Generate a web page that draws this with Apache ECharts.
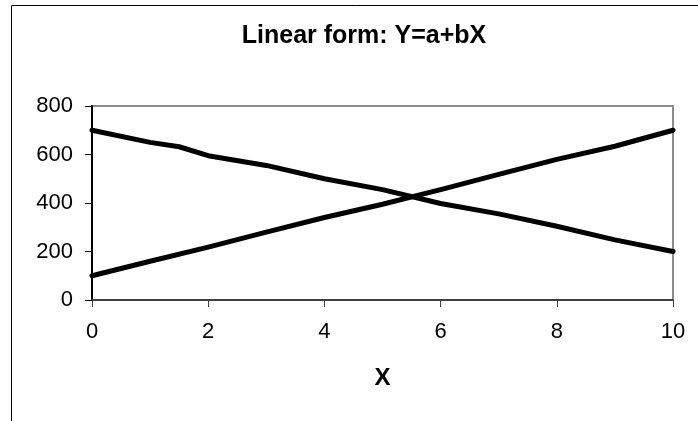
<!DOCTYPE html>
<html>
<head>
<meta charset="utf-8">
<style>
  html, body { margin: 0; padding: 0; background: #fff; }
  #chart { width: 698px; height: 421px; }
</style>
<script src="https://cdn.jsdelivr.net/npm/echarts@6/dist/echarts.min.js"></script>
</head>
<body>
<div id="chart"></div>
<script>
// X positions sampled along each curve
const xRising  = [0, 1, 2, 3, 4, 5, 6, 7, 8, 9, 10];
const yRising  = [100, 160, 218, 280, 340, 395, 455, 518, 580, 634, 700];

const xFalling = [0, 1, 1.5, 2, 3, 4, 5, 6, 7, 8, 9, 10];
const yFalling = [700, 650, 632, 595, 555, 500, 455, 398, 355, 304, 248, 200];

const yTicks = [0, 200, 400, 600, 800];
const xTicks = [0, 2, 4, 6, 8, 10];

const pairs = (xs, ys) => xs.map((x, i) => [x, ys[i]]);

const FONT = '"Liberation Sans", Arial, sans-serif';

const chart = echarts.init(document.getElementById('chart'), null, { renderer: 'canvas' });

const lineStyle = { color: '#000', width: 5, cap: 'round', join: 'round' };

chart.setOption({
  animation: false,
  backgroundColor: '#fff',
  title: {
    text: 'Linear form: Y=a+bX',
    left: 359,
    top: 19,
    textAlign: 'center',
    textStyle: { fontFamily: FONT, fontWeight: 'bold', fontSize: 25, color: '#000' }
  },
  graphic: [
    {
      type: 'rect',
      shape: { x: 11.5, y: 5.5, width: 1000, height: 1000 },
      style: { fill: 'none', stroke: '#000', lineWidth: 1 },
      silent: true
    }
  ],
  grid: {
    left: 92, right: 25, top: 106, bottom: 121,
    containLabel: false,
    outerBoundsMode: 'none',
    show: true,
    borderColor: '#8c8c8c',
    borderWidth: 2,
    backgroundColor: 'transparent'
  },
  xAxis: {
    type: 'value',
    min: xTicks[0],
    max: xTicks[xTicks.length - 1],
    interval: xTicks[1] - xTicks[0],
    name: 'X',
    nameLocation: 'middle',
    nameGap: 66,
    nameTextStyle: { fontFamily: FONT, fontWeight: 'bold', fontSize: 24, color: '#000' },
    axisLine: { show: true, lineStyle: { color: '#404040', width: 2 } },
    axisTick: { show: true, length: 7, lineStyle: { color: '#404040', width: 1 } },
    axisLabel: { margin: 21, fontFamily: FONT, fontSize: 22, color: '#000' },
    splitLine: { show: false }
  },
  yAxis: {
    type: 'value',
    min: yTicks[0],
    max: yTicks[yTicks.length - 1],
    interval: yTicks[1] - yTicks[0],
    axisLine: { show: true, lineStyle: { color: '#000', width: 2 } },
    axisTick: { show: true, length: 7, lineStyle: { color: '#000', width: 1 } },
    axisLabel: { margin: 19, fontFamily: FONT, fontSize: 22, color: '#000' },
    splitLine: { show: false }
  },
  series: [
    {
      type: 'line',
      data: pairs(xFalling, yFalling),
      showSymbol: false,
      symbol: 'none',
      lineStyle: lineStyle,
      z: 3
    },
    {
      type: 'line',
      data: pairs(xRising, yRising),
      showSymbol: false,
      symbol: 'none',
      lineStyle: lineStyle,
      z: 3
    }
  ]
});
</script>
</body>
</html>
